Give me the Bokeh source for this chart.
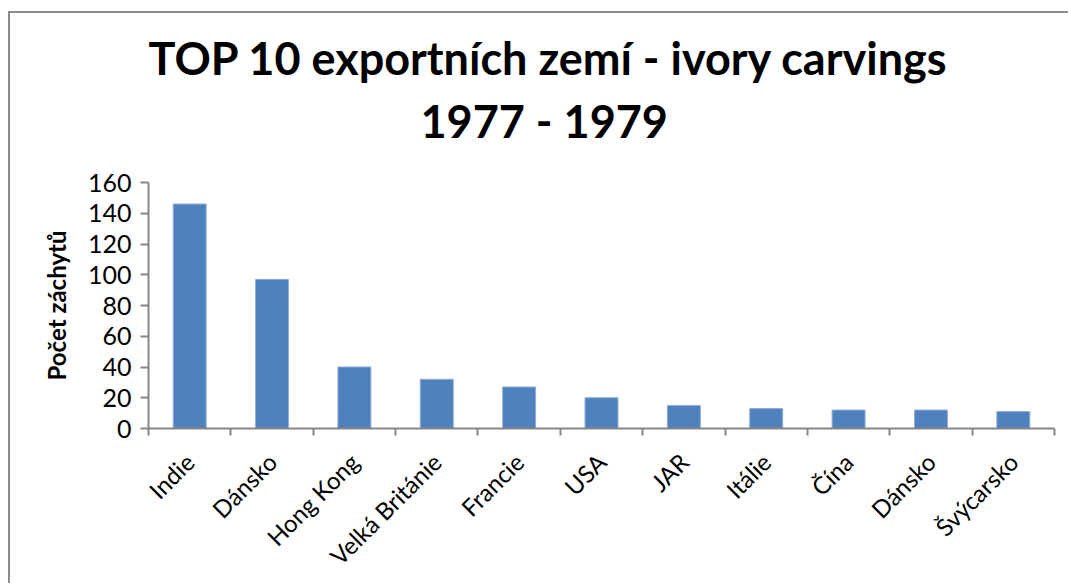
import math
from bokeh.plotting import figure
from bokeh.models import FixedTicker, Title, Range1d, ColumnDataSource
from bokeh.embed import file_html
from bokeh.resources import INLINE

countries = ["Indie", "Dánsko", "Hong Kong", "Velká Británie", "Francie", "USA",
             "JAR", "Itálie", "Čína", "Dánsko", "Švýcarsko"]
values = [146, 97, 40, 32, 27, 20, 15, 13, 12, 12, 11]
y_ticks = [0, 20, 40, 60, 80, 100, 120, 140, 160]
title_line1 = "TOP 10 exportních zemí  -  ivory carvings"
title_line2 = "1977  -  1979"
y_label = "Počet záchytů"

FONT = "Lato"
AXIS_COLOR = "#868686"
BAR_COLOR = "#4F81BD"

xs = list(range(len(countries)))
source = ColumnDataSource(data=dict(x=xs, top=values, name=countries))

p = figure(width=1060, height=572, output_backend="svg", toolbar_location=None,
           x_range=Range1d(-0.5, len(countries) - 0.5), y_range=Range1d(0, 160),
           min_border_left=138, min_border_right=16, min_border_top=169,
           min_border_bottom=157)
p.margin = (11, 0, 0, 8)
p.styles = {"border-left": "2px solid #8c8c8c", "border-top": "2px solid #8c8c8c"}

p.vbar(x="x", top="top", width=0.4, source=source, fill_color=BAR_COLOR,
       line_color="#8EACD6", line_width=1)

p.title = None
t2 = Title(text=title_line2, align="left", offset=272, text_font=FONT,
           text_font_size="45px", text_font_style="bold", text_color="black",
           standoff=70)
t1 = Title(text=title_line1, align="left", offset=0, text_font=FONT,
           text_font_size="45px", text_font_style="bold", text_color="black",
           standoff=-56)
p.add_layout(t2, "above")
p.add_layout(t1, "above")

p.xgrid.grid_line_color = None
p.ygrid.grid_line_color = None
p.outline_line_color = None
p.background_fill_color = "white"
p.border_fill_color = "white"

# x axis
xt = FixedTicker(ticks=xs, minor_ticks=[i - 0.5 for i in range(len(countries) + 1)])
p.xaxis.ticker = xt
p.xaxis.major_label_overrides = {i: n for i, n in enumerate(countries)}
p.xaxis.major_label_orientation = math.pi / 4
p.xaxis.major_tick_line_color = None
p.xaxis.minor_tick_line_color = AXIS_COLOR
p.xaxis.minor_tick_line_width = 2
p.xaxis.minor_tick_out = 7
p.xaxis.minor_tick_in = 0
p.xaxis.axis_line_color = AXIS_COLOR
p.xaxis.axis_line_width = 2
p.xaxis.major_label_text_font = FONT
p.xaxis.major_label_text_font_size = "24px"
p.xaxis.major_label_text_color = "black"
p.xaxis.major_label_standoff = 22

# y axis
p.yaxis.ticker = FixedTicker(ticks=y_ticks)
p.yaxis.axis_line_color = AXIS_COLOR
p.yaxis.axis_line_width = 2
p.yaxis.major_tick_line_color = AXIS_COLOR
p.yaxis.major_tick_line_width = 2
p.yaxis.major_tick_out = 8
p.yaxis.major_tick_in = 0
p.yaxis.minor_tick_line_color = None
p.yaxis.major_label_text_font = FONT
p.yaxis.major_label_text_font_size = "25px"
p.yaxis.major_label_text_color = "black"
p.yaxis.major_label_standoff = 9
p.yaxis.axis_label = y_label
p.yaxis.axis_label_text_font = FONT
p.yaxis.axis_label_text_font_size = "24px"
p.yaxis.axis_label_text_font_style = "bold"
p.yaxis.axis_label_text_color = "black"
p.yaxis.axis_label_standoff = 14

open("out.html", "w").write(file_html(p, INLINE))
